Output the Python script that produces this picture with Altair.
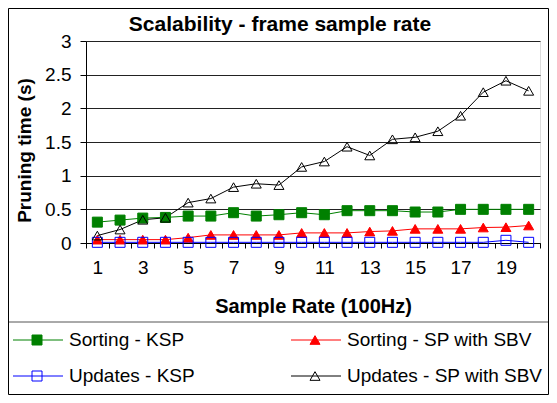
import altair as alt
import pandas as pd

# ---- data ----
x_values = list(range(1, 21))
series_names = ["Sorting - KSP", "Sorting - SP with SBV", "Updates - KSP", "Updates - SP with SBV"]
sorting_ksp = [0.31, 0.34, 0.37, 0.38, 0.40, 0.40, 0.45, 0.40, 0.42, 0.45,
               0.42, 0.48, 0.48, 0.48, 0.46, 0.46, 0.50, 0.50, 0.50, 0.50]
sorting_sp_sbv = [0.05, 0.05, 0.05, 0.05, 0.08, 0.12, 0.12, 0.12, 0.12, 0.15,
                  0.15, 0.15, 0.17, 0.18, 0.21, 0.21, 0.21, 0.23, 0.235, 0.26]
updates_ksp = [0.01, 0.01, 0.01, 0.01, 0.01, 0.01, 0.01, 0.01, 0.01, 0.01,
               0.01, 0.01, 0.01, 0.01, 0.01, 0.01, 0.01, 0.01, 0.04, 0.01]
updates_sp_sbv = [0.11, 0.20, 0.345, 0.375, 0.60, 0.66, 0.83, 0.88, 0.86, 1.13,
                  1.21, 1.43, 1.30, 1.54, 1.57, 1.66, 1.89, 2.24, 2.41, 2.26]
y_ticks = [0, 0.5, 1, 1.5, 2, 2.5, 3]
x_tick_bounds = [i + 0.5 for i in range(0, 21)]  # between-category ticks

chart_title = "Scalability - frame sample rate"
x_title = "Sample Rate (100Hz)"
y_title = "Pruning time (s)"

# ---- styles ----
line_colors = ["#008000", "#FF0000", "#0000FF", "#000000"]
marker_fills = ["#008000", "#FF0000", "transparent", "transparent"]
marker_shapes = ["square", "triangle-up", "square", "triangle-up"]
FONT = "Liberation Sans"
W, H = 454, 202

rows = []
for name, vals in zip(series_names, [sorting_ksp, sorting_sp_sbv, updates_ksp, updates_sp_sbv]):
    for x, v in zip(x_values, vals):
        rows.append({"series": name, "x": x, "value": v})
df = pd.DataFrame(rows)

legend_df = pd.DataFrame({"series": series_names, "col": [0, 1, 0, 1], "row": [0, 0, 1, 1]})

color_scale = alt.Scale(domain=series_names, range=line_colors)
fill_scale = alt.Scale(domain=series_names, range=marker_fills)
shape_scale = alt.Scale(domain=series_names, range=marker_shapes)

x_enc = alt.X(
    "x:Q",
    scale=alt.Scale(domain=[0.5, 20.5], nice=False, zero=False),
    axis=alt.Axis(
        values=x_tick_bounds,
        labelExpr="((datum.value + 0.5) % 2 == 1 && datum.value < 20) ? '' + (datum.value + 0.5) : ''",
        labelOffset=W / 40,
        labelOverlap=False,
        labelFlush=False,
        labelFontSize=19,
        labelFont=FONT,
        labelColor="black",
        labelBaseline="middle",
        labelPadding=19,
        ticks=True,
        tickSize=5,
        tickColor="black",
        domainColor="black",
        grid=False,
        title=x_title,
        titleFont=FONT,
        titleFontSize=20,
        titleFontWeight="bold",
        titleColor="black",
        titleX=W / 2,
        titleY=63,
        titleAlign="center",
        titleBaseline="middle",
    ),
)
y_enc = alt.Y(
    "value:Q",
    scale=alt.Scale(domain=[0, 3], nice=False),
    axis=alt.Axis(
        values=y_ticks,
        format="~g",
        labelFontSize=19,
        labelFont=FONT,
        labelColor="black",
        labelPadding=9,
        tickSize=6,
        tickColor="black",
        domainColor="black",
        grid=True,
        gridColor="#222222",
        gridOpacity=1,
        title=y_title,
        titleFont=FONT,
        titleFontSize=19,
        titleFontWeight="bold",
        titleColor="black",
        titleAngle=270,
        titleX=-62,
        titleY=109,
        titleAlign="center",
        titleBaseline="middle",
    ),
)

lines = alt.Chart(df).mark_line(strokeWidth=1).encode(
    x=x_enc, y=y_enc,
    color=alt.Color("series:N", scale=color_scale, legend=None),
)
points = alt.Chart(df).mark_point(opacity=1, strokeWidth=1, size=100).encode(
    x=x_enc, y=y_enc,
    stroke=alt.Stroke("series:N", scale=color_scale, legend=None),
    fill=alt.Fill("series:N", scale=fill_scale, legend=None),
    shape=alt.Shape("series:N", scale=shape_scale, legend=None),
)

# ---- manual legend (Excel-style, two columns) ----
leg = alt.Chart(legend_df).transform_calculate(
    lx1="-73 + 278 * datum.col",
    lx2="-23 + 278 * datum.col",
    mx="-49 + 278 * datum.col",
    tx="-17 + 278 * datum.col",
    ly="299 + 36 * datum.row",
)
leg_lines = leg.mark_rule(strokeWidth=1).encode(
    x=alt.X("lx1:Q", scale=None, axis=None),
    x2="lx2:Q",
    y=alt.Y("ly:Q", scale=None, axis=None),
    color=alt.Color("series:N", scale=color_scale, legend=None),
)
leg_marks = leg.mark_point(opacity=1, strokeWidth=1, size=100).encode(
    x=alt.X("mx:Q", scale=None, axis=None),
    y=alt.Y("ly:Q", scale=None, axis=None),
    stroke=alt.Stroke("series:N", scale=color_scale, legend=None),
    fill=alt.Fill("series:N", scale=fill_scale, legend=None),
    shape=alt.Shape("series:N", scale=shape_scale, legend=None),
)
leg_text = leg.mark_text(align="left", baseline="middle", fontSize=19, font=FONT, color="black").encode(
    x=alt.X("tx:Q", scale=None, axis=None),
    y=alt.Y("ly:Q", scale=None, axis=None),
    text="series:N",
)

one = pd.DataFrame({"t": [chart_title]})
title_mark = alt.Chart(one).mark_text(
    align="center", baseline="middle", fontSize=21, fontWeight="bold", font=FONT, color="black"
).encode(x=alt.value(194), y=alt.value(-16), text="t:N")

frame = alt.Chart(one).mark_rect(fill="transparent", stroke="black", strokeWidth=1).encode(
    x=alt.value(-77.5), x2=alt.value(462.5), y=alt.value(-32.5), y2=alt.value(353.5)
)
separator = alt.Chart(one).mark_rule(stroke="#555555", strokeWidth=1).encode(
    x=alt.value(-78), x2=alt.value(463), y=alt.value(281)
)

chart = alt.layer(
    lines, points, leg_lines, leg_marks, leg_text, title_mark, separator, frame
).properties(
    width=W,
    height=H,
    padding={"left": 78, "top": 33, "right": 9, "bottom": 152},
    autosize=alt.AutoSizeParams(type="none"),
    background="white",
).configure_view(
    stroke="black", strokeWidth=1
).configure(font=FONT)

chart.save("out.html", embed_options={"renderer": "svg", "actions": False})
